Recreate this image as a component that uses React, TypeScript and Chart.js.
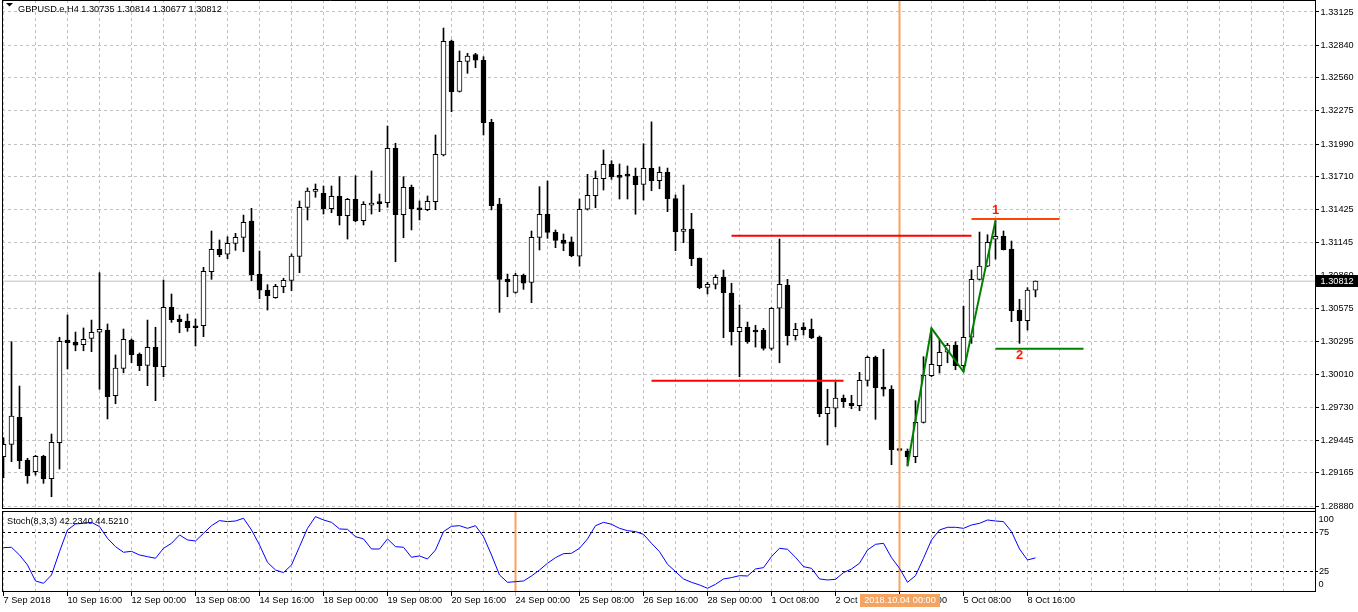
import React, { useEffect, useRef } from 'react';
import { Chart, registerables } from 'chart.js';

Chart.register(...registerables);

// ---- H4 candles (bar index 0..129) ----
const opens = [
  1.29304, 1.29410, 1.29642, 1.29275, 1.29175, 1.29307, 1.29115, 1.29424, 1.30306, 1.30289,
  1.30266, 1.30321, 1.30373, 1.30392, 1.29828, 1.30063, 1.30306, 1.30184, 1.30089, 1.30244,
  1.30077, 1.30587, 1.30487, 1.30470, 1.30427, 1.30429, 1.30893, 1.31086, 1.31043, 1.31137,
  1.31189, 1.31329, 1.30871, 1.30736, 1.30670, 1.30764, 1.30818, 1.31024, 1.31445, 1.31584,
  1.31567, 1.31435, 1.31541, 1.31375, 1.31515, 1.31332, 1.31464, 1.31492, 1.31486, 1.31954,
  1.31383, 1.31618, 1.31438, 1.31426, 1.31495, 1.31896, 1.32876, 1.32443, 1.32701, 1.32758,
  1.32710, 1.32177, 1.31475, 1.30828, 1.30716, 1.30862, 1.30802, 1.31189, 1.31387, 1.31232,
  1.31166, 1.31151, 1.31026, 1.31430, 1.31546, 1.31692, 1.31816, 1.31718, 1.31716, 1.31716,
  1.31643, 1.31782, 1.31675, 1.31747, 1.31522, 1.31240, 1.31260, 1.31011, 1.30759, 1.30785,
  1.30848, 1.30710, 1.30378, 1.30416, 1.30390, 1.30392, 1.30235, 1.30579, 1.30779, 1.30343,
  1.30418, 1.30398, 1.30332, 1.29673, 1.29720, 1.29808, 1.29762, 1.29742, 1.29960, 1.30158,
  1.29903, 1.29883, 1.29364, 1.29353, 1.29304, 1.29599, 1.30000, 1.30087, 1.30201, 1.30263,
  1.30086, 1.30330, 1.30828, 1.30942, 1.31172, 1.31198, 1.31088, 1.30564, 1.30472, 1.30735,
];
const highs = [
  1.29467, 1.30292, 1.29911, 1.29290, 1.29316, 1.29316, 1.29499, 1.30330, 1.30521, 1.30375,
  1.30410, 1.30478, 1.30885, 1.30444, 1.30178, 1.30401, 1.30315, 1.30195, 1.30478, 1.30416,
  1.30822, 1.30702, 1.30521, 1.30530, 1.30487, 1.30931, 1.31243, 1.31166, 1.31194, 1.31223,
  1.31380, 1.31438, 1.31071, 1.30782, 1.30785, 1.30837, 1.31045, 1.31501, 1.31613, 1.31647,
  1.31630, 1.31630, 1.31710, 1.31524, 1.31718, 1.31495, 1.31759, 1.31561, 1.32145, 1.31997,
  1.31710, 1.31638, 1.31501, 1.31544, 1.32068, 1.32987, 1.32884, 1.32790, 1.32770, 1.32770,
  1.32741, 1.32203, 1.31524, 1.30873, 1.30879, 1.30873, 1.31243, 1.31624, 1.31673, 1.31252,
  1.31217, 1.31192, 1.31518, 1.31730, 1.31759, 1.31939, 1.31847, 1.31819, 1.31802, 1.31784,
  1.31993, 1.32181, 1.31794, 1.31784, 1.31552, 1.31638, 1.31395, 1.31011, 1.30802, 1.30865,
  1.30908, 1.30794, 1.30607, 1.30461, 1.30433, 1.30407, 1.30584, 1.31174, 1.30828, 1.30450,
  1.30455, 1.30487, 1.30341, 1.29883, 1.29948, 1.29834, 1.29831, 1.30029, 1.30169, 1.30169,
  1.30227, 1.29914, 1.29374, 1.29370, 1.29785, 1.30163, 1.30407, 1.30312, 1.30278, 1.30292,
  1.30598, 1.30908, 1.31234, 1.31211, 1.31332, 1.31243, 1.31157, 1.30656, 1.30756, 1.30814,
];
const lows = [
  1.29123, 1.29261, 1.29201, 1.29075, 1.29146, 1.29075, 1.28960, 1.29198, 1.30057, 1.30214,
  1.30214, 1.30206, 1.29883, 1.29628, 1.29759, 1.30025, 1.30111, 1.30043, 1.29914, 1.29785,
  1.29991, 1.30458, 1.30369, 1.30381, 1.30255, 1.30335, 1.30828, 1.31022, 1.31005, 1.31077,
  1.31065, 1.30816, 1.30661, 1.30564, 1.30665, 1.30713, 1.30730, 1.30885, 1.31338, 1.31533,
  1.31389, 1.31400, 1.31295, 1.31174, 1.31323, 1.31295, 1.31389, 1.31409, 1.31447, 1.30979,
  1.31185, 1.31252, 1.31338, 1.31417, 1.31426, 1.31888, 1.32268, 1.32437, 1.32598, 1.32646,
  1.32068, 1.31424, 1.30544, 1.30678, 1.30708, 1.30742, 1.30627, 1.31080, 1.31180, 1.31100,
  1.31074, 1.31022, 1.30942, 1.31423, 1.31443, 1.31595, 1.31687, 1.31518, 1.31518, 1.31387,
  1.31509, 1.31589, 1.31606, 1.31409, 1.31074, 1.31143, 1.30945, 1.30747, 1.30702, 1.30745,
  1.30326, 1.30263, 1.29991, 1.30278, 1.30246, 1.30220, 1.30220, 1.30111, 1.30263, 1.30306,
  1.30349, 1.30318, 1.29647, 1.29404, 1.29561, 1.29728, 1.29716, 1.29699, 1.29911, 1.29625,
  1.29825, 1.29235, 1.29353, 1.29224, 1.29252, 1.29593, 1.29991, 1.30023, 1.30111, 1.30051,
  1.30034, 1.30278, 1.30822, 1.30936, 1.31002, 1.31080, 1.30464, 1.30278, 1.30392, 1.30677,
];
const closes = [
  1.29410, 1.29653, 1.29269, 1.29140, 1.29307, 1.29112, 1.29427, 1.30295, 1.30283, 1.30263,
  1.30312, 1.30373, 1.30398, 1.29819, 1.30066, 1.30312, 1.30180, 1.30086, 1.30244, 1.30077,
  1.30587, 1.30481, 1.30464, 1.30412, 1.30412, 1.30897, 1.31086, 1.31039, 1.31137, 1.31189,
  1.31318, 1.30867, 1.30734, 1.30687, 1.30768, 1.30819, 1.31028, 1.31447, 1.31587, 1.31587,
  1.31435, 1.31541, 1.31375, 1.31515, 1.31329, 1.31472, 1.31484, 1.31478, 1.31954, 1.31383,
  1.31618, 1.31432, 1.31426, 1.31498, 1.31902, 1.32873, 1.32440, 1.32701, 1.32747, 1.32710,
  1.32174, 1.31460, 1.30828, 1.30807, 1.30862, 1.30794, 1.31189, 1.31387, 1.31232, 1.31163,
  1.31137, 1.31031, 1.31430, 1.31550, 1.31696, 1.31816, 1.31710, 1.31704, 1.31715, 1.31641,
  1.31782, 1.31675, 1.31747, 1.31520, 1.31237, 1.31260, 1.31005, 1.30756, 1.30785, 1.30845,
  1.30713, 1.30378, 1.30416, 1.30292, 1.30375, 1.30235, 1.30579, 1.30785, 1.30343, 1.30398,
  1.30395, 1.30324, 1.29673, 1.29728, 1.29808, 1.29776, 1.29742, 1.29960, 1.30158, 1.29897,
  1.29883, 1.29364, 1.29357, 1.29304, 1.29599, 1.30004, 1.30098, 1.30201, 1.30263, 1.30086,
  1.30330, 1.30828, 1.30942, 1.31146, 1.31198, 1.31082, 1.30558, 1.30472, 1.30736, 1.30812,
];

// ---- Stochastic(8,3,3) main line ----
const stochK = [
  55.3, 55.8, 45.9, 33.1, 12.6, 9.6, 20.3, 50.2, 78.0, 85.7,
  86.5, 87.8, 82.3, 67.3, 56.6, 49.4, 50.6, 45.9, 43.8, 41.7,
  54.5, 60.9, 71.6, 65.2, 63.9, 73.7, 83.5, 90.0, 88.7, 89.5,
  93.0, 78.0, 58.8, 36.5, 26.7, 23.3, 33.1, 56.6, 80.1, 95.1,
  90.8, 87.8, 79.3, 78.8, 69.4, 66.5, 53.6, 53.6, 66.5, 56.6,
  55.8, 43.0, 44.7, 40.8, 52.3, 75.9, 82.7, 83.5, 80.1, 83.5,
  69.4, 45.9, 20.3, 10.9, 11.7, 12.6, 19.0, 26.7, 35.3, 42.5,
  47.6, 48.1, 54.5, 66.5, 83.5, 87.8, 85.3, 80.1, 77.1, 75.9,
  72.4, 60.9, 50.2, 34.0, 24.6, 15.2, 10.9, 7.5, 3.2, 8.3,
  15.2, 16.9, 19.4, 19.0, 28.0, 29.7, 43.8, 54.5, 53.2, 43.0,
  31.0, 28.8, 15.2, 13.9, 14.7, 23.3, 28.0, 35.3, 52.3, 59.6,
  60.9, 42.5, 28.8, 10.9, 19.4, 41.7, 65.2, 78.0, 81.4, 81.4,
  80.1, 84.4, 86.5, 90.8, 89.5, 88.7, 75.9, 53.6, 39.5, 42.234,
];

// ---- axis labels ----
const priceTicks = [
  1.33125, 1.32840, 1.32560, 1.32275, 1.31990, 1.31710, 1.31425, 1.31145,
  1.30860, 1.30575, 1.30295, 1.30010, 1.29730, 1.29445, 1.29165, 1.28880,
];
const timeLabels = [
  '7 Sep 2018', '10 Sep 16:00', '12 Sep 00:00', '13 Sep 08:00', '14 Sep 16:00',
  '18 Sep 00:00', '19 Sep 08:00', '20 Sep 16:00', '24 Sep 00:00', '25 Sep 08:00',
  '26 Sep 16:00', '28 Sep 00:00', '1 Oct 08:00', '2 Oct 16:00', '4 Oct 00:00',
  '5 Oct 08:00', '8 Oct 16:00',
];
const stochTicks = [0, 25, 75, 100];
const stochLevels = [25, 75];

// ---- drawn objects ----
const upperRedLine = [{ x: 91, y: 1.31203 }, { x: 121, y: 1.31203 }];
const lowerRedLine = [{ x: 81, y: 1.29957 }, { x: 105, y: 1.29957 }];
const level1Line = [{ x: 121, y: 1.31346 }, { x: 132, y: 1.31346 }];
const level2Line = [{ x: 124, y: 1.30232 }, { x: 135, y: 1.30232 }];
const zigzag = [
  { x: 113, y: 1.29224 }, { x: 116, y: 1.30407 }, { x: 120, y: 1.30034 }, { x: 124, y: 1.31332 },
];
const mainVLineBar = 112;
const stochVLineBar = 64;
const cursorLabel = '2018.10.04 00:00';
const symbolTitle = 'GBPUSD.e,H4 1.30735 1.30814 1.30677 1.30812';
const stochTitle = 'Stoch(8,3,3) 42.2340 44.5210';

const X_MIN = -0.1875;
const X_MAX = 163.9375;
const P_MIN = 1.28863;
const P_MAX = 1.33228;
const S_MIN = -1.54;
const S_MAX = 102.31;

const FONT = 'Liberation Sans';
const FS = 9.2;
const GRID = '#c0c0c0';
const ORANGE = '#f4a460';

const xGridTicks: number[] = [];
for (let v = 0; v <= 160; v += 4) xGridTicks.push(v);

function fixY(s: any) {
  s.width = 43;
  s.paddingTop = 0;
  s.paddingBottom = 0;
}

export default function App() {
  const mainRef = useRef<HTMLCanvasElement>(null);
  const stochRef = useRef<HTMLCanvasElement>(null);

  useEffect(() => {
    Chart.defaults.font.family = FONT;
    Chart.defaults.font.size = FS;
    Chart.defaults.color = '#000';

    const idx = opens.map((_, i) => i);
    const bodyData = idx.map((i) => ({ x: i, y: [opens[i], closes[i]] }));
    const wickData = idx.map((i) => ({ x: i, y: [lows[i], highs[i]] }));
    const bodyColors = idx.map((i) => (closes[i] >= opens[i] ? '#ffffff' : '#000000'));
    const last = closes[closes.length - 1];

    const lineDs = (data: any[], color: string, width: number, order: number) => ({
      type: 'line' as const,
      data,
      borderColor: color,
      borderWidth: width,
      pointRadius: 0,
      pointHoverRadius: 0,
      fill: false,
      tension: 0,
      order,
    });

    const mainPlugin = {
      id: 'mainDecor',
      afterDraw(chart: any) {
        const { ctx, chartArea: a, scales } = chart;
        const xs = scales.x;
        const ys = scales.y;
        ctx.save();
        // frame
        ctx.strokeStyle = '#000';
        ctx.lineWidth = 1;
        ctx.beginPath();
        ctx.moveTo(a.left + 0.5, a.top + 0.5);
        ctx.lineTo(a.right + 0.5, a.top + 0.5);
        ctx.moveTo(a.left + 0.5, a.bottom + 0.5);
        ctx.lineTo(a.right + 0.5, a.bottom + 0.5);
        ctx.moveTo(a.left + 0.5, a.top);
        ctx.lineTo(a.left + 0.5, a.bottom + 1);
        ctx.moveTo(a.right + 0.5, 0);
        ctx.lineTo(a.right + 0.5, chart.height);
        ctx.stroke();
        // header
        ctx.fillStyle = '#000';
        ctx.beginPath();
        ctx.moveTo(6, 3);
        ctx.lineTo(13, 3);
        ctx.lineTo(9.5, 6.5);
        ctx.closePath();
        ctx.fill();
        ctx.font = `${FS}px "${FONT}"`;
        ctx.textAlign = 'left';
        ctx.textBaseline = 'alphabetic';
        ctx.fillText(symbolTitle, 18, 11.5);
        // level labels
        ctx.font = `bold 13px "${FONT}"`;
        ctx.textAlign = 'center';
        ctx.fillStyle = '#ff1a00';
        ctx.fillText('1', xs.getPixelForValue(124), ys.getPixelForValue(level1Line[0].y) - 5.5);
        ctx.fillText('2', xs.getPixelForValue(127), ys.getPixelForValue(level2Line[0].y) + 10.5);
        // bid price box
        const py = ys.getPixelForValue(last);
        ctx.fillStyle = '#000';
        ctx.fillRect(a.right + 1, Math.round(py) - 6, chart.width - a.right - 1, 12);
        ctx.fillStyle = '#fff';
        ctx.font = `${FS}px "${FONT}"`;
        ctx.textAlign = 'left';
        ctx.textBaseline = 'middle';
        ctx.fillText(last.toFixed(5), a.right + 5.5, Math.round(py));
        ctx.restore();
      },
    };

    const mainChart = new Chart(mainRef.current as HTMLCanvasElement, {
      type: 'bar',
      data: {
        datasets: [
          lineDs(zigzag, '#008000', 2, 1),
          lineDs(upperRedLine, '#ff0000', 2, 2),
          lineDs(lowerRedLine, '#ff0000', 2, 2),
          lineDs(level1Line, '#ff4500', 2, 2),
          lineDs(level2Line, '#008000', 2, 2),
          lineDs([{ x: mainVLineBar, y: P_MIN - 1 }, { x: mainVLineBar, y: P_MAX + 1 }], ORANGE, 2, 3),
          {
            type: 'bar',
            data: bodyData as any,
            backgroundColor: bodyColors,
            borderColor: '#000',
            borderWidth: 1,
            borderSkipped: false,
            barThickness: 5,
            grouped: false,
            minBarLength: 2,
            order: 4,
          } as any,
          {
            type: 'bar',
            data: wickData as any,
            backgroundColor: '#000',
            borderWidth: 0,
            barThickness: 1,
            grouped: false,
            order: 5,
          } as any,
          lineDs([{ x: X_MIN, y: last }, { x: X_MAX, y: last }], GRID, 1, 10),
        ] as any,
      },
      options: {
        responsive: false,
        animation: false,
        devicePixelRatio: 1,
        events: [],
        layout: { padding: { left: 2, top: 0, right: 0, bottom: 4 }, autoPadding: false } as any,
        plugins: { legend: { display: false }, tooltip: { enabled: false } },
        scales: {
          x: {
            type: 'linear',
            min: X_MIN,
            max: X_MAX,
            offset: false,
            grid: { offset: false, color: GRID, drawTicks: false, lineWidth: 1 },
            border: { display: false, dash: [3, 3] },
            ticks: { display: false, autoSkip: false },
            afterBuildTicks: (s: any) => {
              s.ticks = xGridTicks.map((v) => ({ value: v }));
            },
            afterFit: (s: any) => {
              s.height = 0;
              s.paddingLeft = 0;
              s.paddingRight = 0;
            },
          },
          y: {
            type: 'linear',
            position: 'right',
            min: P_MIN,
            max: P_MAX,
            beginAtZero: false,
            grid: { color: GRID, tickColor: '#000', tickLength: 4, tickBorderDash: [], lineWidth: 1 },
            border: { display: false, dash: [3, 3] },
            ticks: {
              autoSkip: false,
              padding: 1.5,
              color: '#000',
              font: { family: FONT, size: FS },
              callback: (v: any) => Number(v).toFixed(5),
            },
            afterBuildTicks: (s: any) => {
              s.ticks = priceTicks.map((v) => ({ value: v }));
            },
            afterFit: fixY,
          },
        },
      } as any,
      plugins: [mainPlugin],
    });

    const stochPlugin = {
      id: 'stochDecor',
      afterDraw(chart: any) {
        const { ctx, chartArea: a, scales } = chart;
        const xs = scales.x;
        const ys = scales.y;
        ctx.save();
        ctx.strokeStyle = '#000';
        ctx.lineWidth = 1;
        ctx.beginPath();
        ctx.moveTo(a.left + 0.5, a.top + 0.5);
        ctx.lineTo(a.right + 0.5, a.top + 0.5);
        ctx.moveTo(a.left + 0.5, a.bottom - 0.5);
        ctx.lineTo(a.right + 0.5, a.bottom - 0.5);
        ctx.moveTo(a.left + 0.5, a.top);
        ctx.lineTo(a.left + 0.5, a.bottom);
        ctx.moveTo(a.right + 0.5, 0);
        ctx.lineTo(a.right + 0.5, a.bottom);
        ctx.stroke();
        ctx.fillStyle = '#000';
        ctx.font = `${FS}px "${FONT}"`;
        ctx.textAlign = 'left';
        ctx.textBaseline = 'alphabetic';
        ctx.fillText(stochTitle, a.left + 5, a.top + 12.5);
        // edge labels of the oscillator axis
        ctx.textBaseline = 'middle';
        ctx.fillText(String(stochTicks[3]), a.right + 3.5, ys.getPixelForValue(stochTicks[3]) + 6.5);
        ctx.fillText(String(stochTicks[0]), a.right + 3.5, ys.getPixelForValue(stochTicks[0]) - 6);
        // time cursor label
        const cx = xs.getPixelForValue(mainVLineBar);
        const tw = ctx.measureText(cursorLabel).width;
        const bw = Math.round(tw + 8);
        const bx = Math.round(cx - bw / 2);
        ctx.fillStyle = ORANGE;
        ctx.fillRect(bx, a.bottom + 2, bw, 13);
        ctx.fillStyle = '#fff';
        ctx.textAlign = 'center';
        ctx.fillText(cursorLabel, bx + bw / 2, a.bottom + 8.5);
        ctx.restore();
      },
    };

    const stochChart = new Chart(stochRef.current as HTMLCanvasElement, {
      type: 'line',
      data: {
        datasets: [
          lineDs(stochK.map((v, i) => ({ x: i, y: v })), '#0000ff', 1, 1),
          lineDs([{ x: stochVLineBar, y: S_MIN - 10 }, { x: stochVLineBar, y: S_MAX + 10 }], ORANGE, 2, 2),
          lineDs([{ x: mainVLineBar, y: S_MIN - 10 }, { x: mainVLineBar, y: S_MAX + 10 }], ORANGE, 2, 2),
        ] as any,
      },
      options: {
        responsive: false,
        animation: false,
        devicePixelRatio: 1,
        events: [],
        layout: { padding: { left: 2, top: 2, right: 0, bottom: 0 }, autoPadding: false } as any,
        plugins: { legend: { display: false }, tooltip: { enabled: false } },
        scales: {
          x: {
            type: 'linear',
            min: X_MIN,
            max: X_MAX,
            offset: false,
            grid: {
              offset: false,
              color: GRID,
              drawTicks: true,
              tickLength: 4,
              tickBorderDash: [],
              tickColor: (c: any) => {
                const v = c.tick && c.tick.value;
                if (v === stochVLineBar) return ORANGE;
                return v % 8 === 0 && v / 8 < timeLabels.length ? '#000' : 'rgba(0,0,0,0)';
              },
            },
            border: { display: false, dash: [3, 3] },
            ticks: {
              autoSkip: false,
              maxRotation: 0,
              minRotation: 0,
              align: 'start',
              padding: -1,
              color: '#000',
              font: { family: FONT, size: FS },
              callback: (v: any) => (v % 8 === 0 && timeLabels[v / 8] ? timeLabels[v / 8] : ''),
            },
            afterBuildTicks: (s: any) => {
              s.ticks = xGridTicks.map((v) => ({ value: v }));
            },
            afterFit: (s: any) => {
              s.height = 20;
              s.paddingLeft = 0;
              s.paddingRight = 0;
            },
          },
          y: {
            type: 'linear',
            position: 'right',
            min: S_MIN,
            max: S_MAX,
            grid: {
              color: (c: any) => (stochLevels.includes(c.tick && c.tick.value) ? '#000' : 'rgba(0,0,0,0)'),
              tickColor: (c: any) => (stochLevels.includes(c.tick && c.tick.value) ? '#000' : 'rgba(0,0,0,0)'),
              tickLength: 4,
              tickBorderDash: [3, 3],
            },
            border: { display: false, dash: [3, 3] },
            ticks: {
              autoSkip: false,
              padding: 0,
              color: (c: any) => (stochLevels.includes(c.tick && c.tick.value) ? '#000' : 'rgba(0,0,0,0)'),
              font: { family: FONT, size: FS },
              callback: (v: any) => String(v),
            },
            afterBuildTicks: (s: any) => {
              s.ticks = stochTicks.map((v) => ({ value: v }));
            },
            afterFit: fixY,
          },
        },
      } as any,
      plugins: [stochPlugin],
    });

    return () => {
      mainChart.destroy();
      stochChart.destroy();
    };
  }, []);

  return (
    <div
      style={{
        position: 'fixed',
        left: 0,
        top: 0,
        width: 1358,
        height: 612,
        background: '#ffffff',
        overflow: 'hidden',
      }}
    >
      <canvas
        ref={mainRef}
        width={1358}
        height={512}
        style={{ position: 'absolute', left: 0, top: 0, width: 1358, height: 512 }}
      />
      <canvas
        ref={stochRef}
        width={1358}
        height={103}
        style={{ position: 'absolute', left: 0, top: 509, width: 1358, height: 103 }}
      />
    </div>
  );
}
